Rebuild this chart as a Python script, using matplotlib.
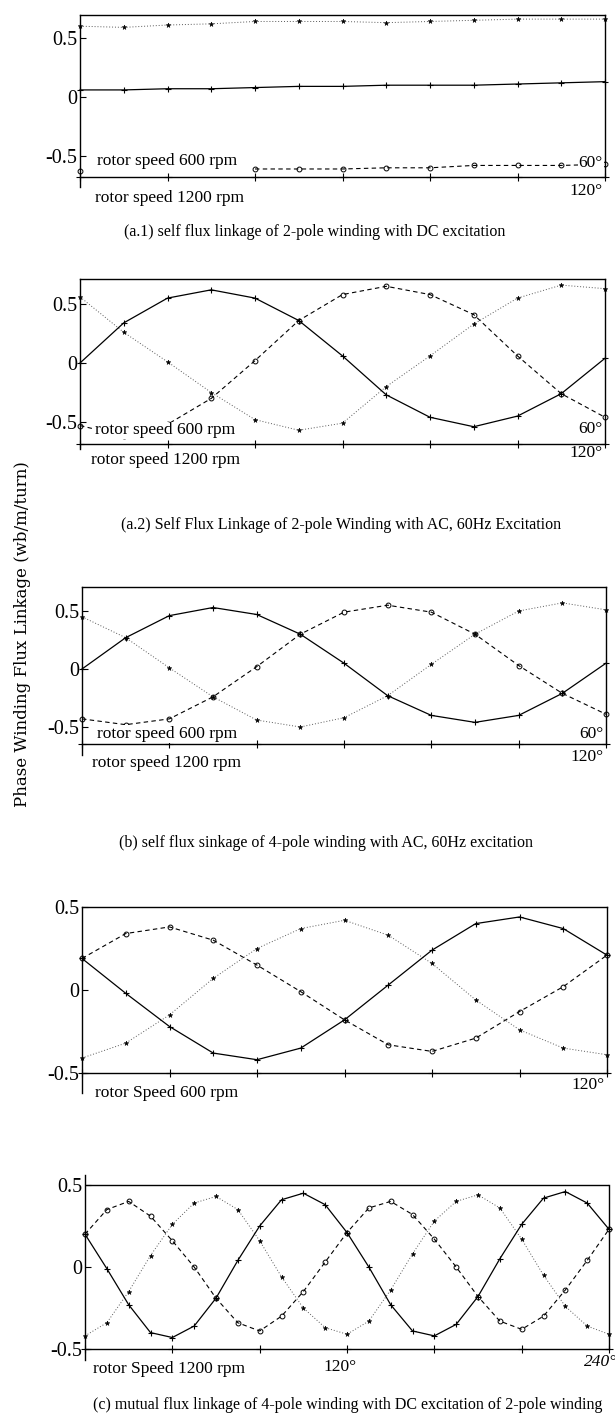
import numpy as np
import matplotlib
matplotlib.use("Agg")
import matplotlib.pyplot as plt

plt.rcParams['font.family'] = ['Liberation Serif', 'DejaVu Serif']

# ---- data, index = sample along rotor angle ----
# (a.1) DC excitation, 2-pole
a1_plus = [0.06, 0.06, 0.07, 0.07, 0.08, 0.09, 0.09, 0.10, 0.10, 0.10, 0.11, 0.12, 0.13]
a1_circ = [-0.63, np.nan, np.nan, np.nan, -0.61, -0.61, -0.61, -0.60, -0.60, -0.58, -0.58, -0.58, -0.57]
a1_star = [0.60, 0.59, 0.61, 0.62, 0.64, 0.64, 0.64, 0.63, 0.64, 0.65, 0.66, 0.66, 0.66]

# (a.2) AC 60Hz, 2-pole
a2_plus = [0.00, 0.34, 0.55, 0.62, 0.55, 0.36, 0.06, -0.27, -0.46, -0.54, -0.45, -0.26, 0.04]
a2_circ = [-0.53, -0.62, -0.52, -0.30, 0.02, 0.36, 0.58, 0.65, 0.58, 0.41, 0.06, -0.26, -0.46]
a2_star = [0.56, 0.26, 0.01, -0.25, -0.48, -0.57, -0.51, -0.20, 0.06, 0.33, 0.55, 0.66, 0.63]

# (b) AC 60Hz, 4-pole
b_plus = [0.00, 0.27, 0.46, 0.53, 0.47, 0.30, 0.05, -0.23, -0.40, -0.46, -0.40, -0.21, 0.05]
b_circ = [-0.43, -0.48, -0.43, -0.24, 0.02, 0.30, 0.49, 0.55, 0.49, 0.30, 0.03, -0.21, -0.39]
b_star = [0.45, 0.27, 0.01, -0.24, -0.44, -0.50, -0.42, -0.23, 0.04, 0.30, 0.50, 0.57, 0.51]

# (c) mutual, 600 rpm
c1_plus = [0.19, -0.02, -0.22, -0.38, -0.42, -0.35, -0.18, 0.03, 0.24, 0.40, 0.44, 0.37, 0.21]
c1_circ = [0.19, 0.34, 0.38, 0.30, 0.15, -0.01, -0.18, -0.33, -0.37, -0.29, -0.13, 0.02, 0.21]
c1_star = [-0.41, -0.32, -0.15, 0.07, 0.25, 0.37, 0.42, 0.33, 0.16, -0.06, -0.24, -0.35, -0.39]

# (c) mutual, 1200 rpm
c2_plus = [0.20, -0.01, -0.23, -0.40, -0.43, -0.36, -0.19, 0.04, 0.25, 0.41, 0.45, 0.38, 0.21,
           0.00, -0.23, -0.39, -0.42, -0.35, -0.18, 0.05, 0.26, 0.42, 0.46, 0.39, 0.23]
c2_circ = [0.20, 0.35, 0.40, 0.31, 0.16, 0.00, -0.19, -0.34, -0.39, -0.30, -0.15, 0.03, 0.21,
           0.36, 0.40, 0.32, 0.17, 0.00, -0.18, -0.33, -0.38, -0.30, -0.14, 0.04, 0.23]
c2_star = [-0.42, -0.34, -0.15, 0.07, 0.26, 0.39, 0.43, 0.35, 0.16, -0.06, -0.25, -0.37, -0.41,
           -0.33, -0.14, 0.08, 0.28, 0.40, 0.44, 0.36, 0.17, -0.05, -0.24, -0.36, -0.41]

captions = [
    "(a.1) self flux linkage of 2-pole winding with DC excitation",
    "(a.2) Self Flux Linkage of 2-pole Winding with AC, 60Hz Excitation",
    "(b) self flux sinkage of 4-pole winding with AC, 60Hz excitation",
    "(c) mutual flux linkage of 4-pole winding with DC excitation of 2-pole winding",
]

W, H = 615, 1422
fig = plt.figure(figsize=(W / 100, H / 100), dpi=100)


def panel(x0, x1, ytop, ybot, zero, unit, n):
    ax = fig.add_axes([x0 / W, 1 - ybot / H, (x1 - x0) / W, (ybot - ytop) / H])
    ax.set_xlim(0, n - 1)
    ax.set_ylim((zero - ybot) / unit, (zero - ytop) / unit)
    ax.set_xticks([])
    ax.set_yticks([-0.5, 0, 0.5], ['-0.5', '0', '0.5'])
    ax.tick_params(axis='y', direction='in', length=4, width=0.8, labelsize=14.5, pad=2)
    ax.spines['bottom'].set_visible(False)
    for s in ax.spines.values():
        s.set_linewidth(1.0)
    return ax


def curves(ax, plus, circ, star):
    x = np.arange(len(plus))
    ax.plot(x, star, color='0.35', ls=(0, (1, 2)), lw=0.7, marker='*', ms=3.5,
            mfc='k', mec='k', mew=0.4, clip_on=False)
    ax.plot(x, circ, color='k', ls=(0, (4, 3)), lw=0.8, marker='o', ms=3.5,
            mfc='none', mec='k', mew=0.7, clip_on=False)
    ax.plot(x, plus, color='k', ls='-', lw=0.9, marker='+', ms=5, mew=0.8, clip_on=False)


def base(ax, b, top, low, step, n):
    xt = np.arange(0, n, step)
    ax.plot(xt, [b] * len(xt), 'k-', lw=1.0, marker='+', ms=6, mew=0.8, clip_on=False)
    ax.spines['left'].set_bounds(low, top)
    ax.spines['right'].set_bounds(b, top)


box = dict(facecolor='white', edgecolor='none', pad=0.5)
fs = 12.5

# ---- (a.1) ----
ax = panel(80, 605, 15, 208, 97, 118, 13)
curves(ax, a1_plus, a1_circ, a1_star)
base(ax, -0.68, 0.695, -0.76, 2, 13)
ax.text(0.39, -0.54, "rotor speed 600 rpm", fontsize=fs, va='center', bbox=box)
ax.text(11.95, -0.56, "60°", fontsize=fs, va='center', ha='right', bbox=box)
ax.text(0.34, -0.86, "rotor speed 1200 rpm", fontsize=fs, va='center')
ax.text(11.95, -0.80, "120°", fontsize=fs, va='center', ha='right')

# ---- (a.2) ----
ax = panel(80, 605, 279, 472, 363, 118, 13)
curves(ax, a2_plus, a2_circ, a2_star)
base(ax, -0.69, 0.71, -0.73, 2, 13)
ax.text(0.34, -0.57, "rotor speed 600 rpm", fontsize=fs, va='center', bbox=box)
ax.text(11.95, -0.56, "60°", fontsize=fs, va='center', ha='right', bbox=box)
ax.text(0.25, -0.82, "rotor speed 1200 rpm", fontsize=fs, va='center')
ax.text(11.95, -0.76, "120°", fontsize=fs, va='center', ha='right')

# ---- (b) ----
ax = panel(82, 606, 587, 775, 669, 116, 13)
curves(ax, b_plus, b_circ, b_star)
base(ax, -0.65, 0.71, -0.74, 2, 13)
ax.text(0.34, -0.56, "rotor speed 600 rpm", fontsize=fs, va='center', bbox=box)
ax.text(11.95, -0.56, "60°", fontsize=fs, va='center', ha='right', bbox=box)
ax.text(0.23, -0.81, "rotor speed 1200 rpm", fontsize=fs, va='center')
ax.text(11.95, -0.76, "120°", fontsize=fs, va='center', ha='right')

# ---- (c) 600 rpm ----
ax = panel(82, 607, 907, 1105, 990, 166, 13)
curves(ax, c1_plus, c1_circ, c1_star)
base(ax, -0.5, 0.5, -0.62, 2, 13)
ax.text(0.3, -0.62, "rotor Speed 600 rpm", fontsize=fs, va='center')
ax.text(11.95, -0.57, "120°", fontsize=fs, va='center', ha='right')

# ---- (c) 1200 rpm ----
ax = panel(85, 609, 1172, 1385, 1267, 164, 25)
ax.spines['top'].set_visible(False)
ax.plot([0, 24], [0.5, 0.5], 'k-', lw=1.0)
curves(ax, c2_plus, c2_circ, c2_star)
base(ax, -0.5, 0.56, -0.57, 4, 25)
ax.spines['right'].set_bounds(-0.5, 0.5)
ax.text(0.37, -0.62, "rotor Speed 1200 rpm", fontsize=fs, va='center')
ax.text(11.7, -0.61, "120°", fontsize=fs, va='center', ha='center')
ax.text(23.6, -0.58, "240°", fontsize=fs, va='center', ha='center', style='italic')

# ---- captions & shared y label ----
for (cx, cy), txt in zip([(315, 232), (341, 525), (326, 843), (348, 1405)], captions):
    fig.text(cx / W, 1 - cy / H, txt, fontsize=11.5, ha='center', va='center')

fig.text(23 / W, 1 - 634 / H, "Phase Winding Flux Linkage (wb/m/turn)", rotation=90,
         fontsize=12, ha='center', va='center', family=['DejaVu Serif'])

fig.savefig("out.png", dpi=100)
